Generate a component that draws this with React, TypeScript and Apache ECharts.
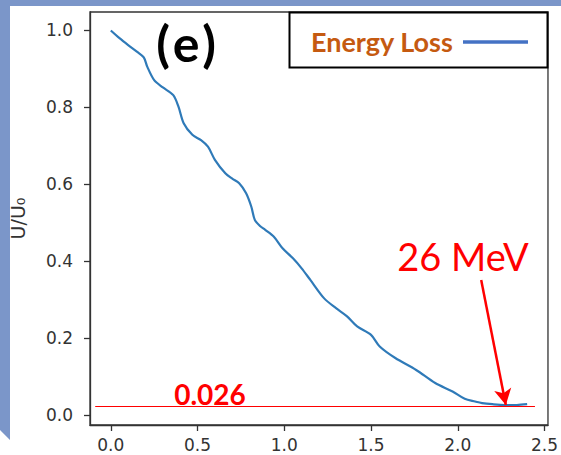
import React, { useEffect, useRef } from "react";
import * as echarts from "echarts";

const xValues = [0.00, 0.05, 0.10, 0.15, 0.19, 0.21, 0.25, 0.30, 0.36, 0.39, 0.42, 0.47, 0.52, 0.56, 0.60, 0.66, 0.70, 0.74, 0.78, 0.81, 0.83, 0.86, 0.89, 0.94, 0.99, 1.05, 1.10, 1.15, 1.23, 1.30, 1.36, 1.42, 1.50, 1.55, 1.64, 1.76, 1.87, 1.97, 2.04, 2.10, 2.14, 2.20, 2.27, 2.34, 2.40];
const yValues = [1.000, 0.980, 0.962, 0.945, 0.930, 0.906, 0.871, 0.852, 0.832, 0.802, 0.759, 0.729, 0.715, 0.698, 0.664, 0.629, 0.615, 0.603, 0.577, 0.542, 0.508, 0.492, 0.482, 0.464, 0.434, 0.408, 0.382, 0.352, 0.304, 0.278, 0.258, 0.231, 0.209, 0.179, 0.149, 0.118, 0.084, 0.062, 0.043, 0.036, 0.032, 0.029, 0.027, 0.027, 0.029];
const xTicks = [0, 0.5, 1.0, 1.5, 2.0, 2.5];
const yTicks = [0, 0.2, 0.4, 0.6, 0.8, 1.0];
const thresholdValue = 0.024;
const thresholdSpan = [-0.09, 2.445];
const arrowFrom = [2.135, 0.352];
const arrowTo = [2.277, 0.027];

export default function App() {
  const ref = useRef<HTMLDivElement>(null);
  useEffect(() => {
    document.body.style.margin = "0";
    const chart = echarts.init(ref.current!, null, { renderer: "svg" });
    const points = xValues.map((x, i) => [x, yValues[i]]);
    const axisColor = "#333";
    chart.setOption({
      animation: false,
      backgroundColor: "#ffffff",
      grid: { left: 87, right: 9, top: 12, bottom: 30, show: true, borderColor: axisColor, borderWidth: 1.3, backgroundColor: "#fff" },
      xAxis: {
        type: "value", min: -0.12, max: 2.52,
        splitLine: { show: false },
        axisLine: { show: true, onZero: false, lineStyle: { color: axisColor, width: 1.3 } },
        axisTick: { show: true, length: 6, customValues: xTicks, lineStyle: { color: axisColor, width: 1.3 } },
        axisLabel: { customValues: xTicks, formatter: (v: number) => v.toFixed(1), color: "#333", fontFamily: "DejaVu Sans", fontSize: 17, margin: 11 },
      },
      yAxis: {
        type: "value", min: -0.025, max: 1.048,
        splitLine: { show: false },
        axisLine: { show: true, onZero: false, lineStyle: { color: axisColor, width: 1.3 } },
        axisTick: { show: true, length: 6, customValues: yTicks, lineStyle: { color: axisColor, width: 1.3 } },
        axisLabel: { customValues: yTicks, formatter: (v: number) => v.toFixed(1), color: "#333", fontFamily: "DejaVu Sans", fontSize: 17, margin: 17 },
        name: "U/U₀", nameLocation: "middle", nameGap: 63, nameRotate: 90,
        nameTextStyle: { color: "#333", fontFamily: "DejaVu Sans", fontSize: 19 },
      },
      series: [
        {
          type: "line", data: points, showSymbol: false, smooth: 0.3,
          lineStyle: { color: "#2f7ab8", width: 2.2 },
          markLine: {
            silent: true, animation: false, label: { show: false },
            data: [
              [
                { coord: [thresholdSpan[0], thresholdValue], symbol: "none", lineStyle: { color: "#ff0000", width: 1, type: "solid" } },
                { coord: [thresholdSpan[1], thresholdValue], symbol: "none" },
              ],
              [
                { coord: arrowFrom, symbol: "none", lineStyle: { color: "#ff0000", width: 2.5, type: "solid" } },
                { coord: arrowTo, symbol: "arrow", symbolSize: [13, 16] },
              ],
            ],
          },
        },
      ],
      graphic: [
        { type: "polygon", z: 100, shape: { points: [[0, 0], [561, 0], [561, 6], [10, 6], [10, 440], [0, 430]] }, style: { fill: "#7b96c9" } },
        { type: "rect", z: 50, shape: { x: 289.5, y: 12.5, width: 258, height: 55 }, style: { fill: "#fff", stroke: "#000", lineWidth: 2 } },
        { type: "text", z: 51, x: 311, y: 41, style: { text: "Energy Loss", fill: "#c55a11", font: "bold 27px Lato", textVerticalAlign: "middle" } },
        { type: "line", z: 51, shape: { x1: 463, y1: 42, x2: 528, y2: 42 }, style: { stroke: "#4472c4", lineWidth: 3.5 } },
        { type: "text", z: 51, x: 163, y: 43, style: { text: "(", fill: "#000", font: "bold 50px Lato", textAlign: "center", textVerticalAlign: "middle" } },
        { type: "text", z: 51, x: 186, y: 43, style: { text: "e", fill: "#000", font: "bold 50px Lato", textAlign: "center", textVerticalAlign: "middle" } },
        { type: "text", z: 51, x: 209, y: 43, style: { text: ")", fill: "#000", font: "bold 50px Lato", textAlign: "center", textVerticalAlign: "middle" } },
        { type: "text", z: 51, x: 463, y: 256, style: { text: "26 MeV", fill: "#ff0000", font: "38px Lato", textAlign: "center", textVerticalAlign: "middle" } },
        { type: "text", z: 51, x: 210, y: 394, style: { text: "0.026", fill: "#ff0000", font: "bold 28px Lato", textAlign: "center", textVerticalAlign: "middle" } },
      ],
    });
    return () => chart.dispose();
  }, []);
  return <div ref={ref} style={{ width: 561, height: 455 }} />;
}
